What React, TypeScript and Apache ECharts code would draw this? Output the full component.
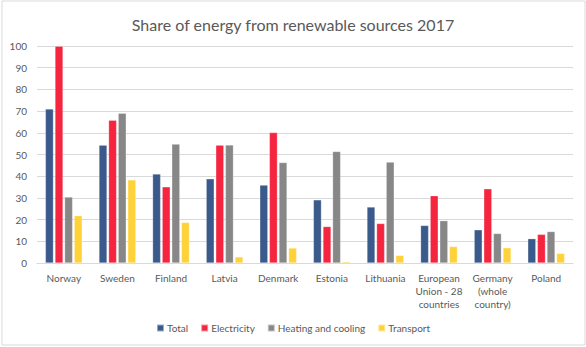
import React, { useEffect, useRef } from "react";
import * as echarts from "echarts";

const categories = [
  "Norway",
  "Sweden",
  "Finland",
  "Latvia",
  "Denmark",
  "Estonia",
  "Lithuania",
  "European\nUnion - 28\ncountries",
  "Germany\n(whole\ncountry)",
  "Poland",
];
const total = [71.0, 54.3, 41.0, 38.8, 35.9, 29.1, 25.8, 17.3, 15.3, 11.2];
const electricity = [99.9, 65.8, 35.1, 54.3, 60.1, 16.8, 18.2, 31.0, 34.2, 13.2];
const heating = [30.4, 69.0, 54.8, 54.4, 46.3, 51.4, 46.5, 19.5, 13.6, 14.5];
const transport = [21.8, 38.3, 18.7, 2.8, 6.9, 0.6, 3.5, 7.6, 7.0, 4.4];
const yTicks = { min: 0, max: 100, interval: 10 };

const FONT = "Lato, 'Open Sans', sans-serif";

export default function App() {
  const ref = useRef<HTMLDivElement>(null);
  useEffect(() => {
    if (!ref.current) return;
    const chart = echarts.init(ref.current, null, { renderer: "svg" });
    const mk = (name: string, data: number[], color: string) => ({
      name,
      type: "bar",
      data,
      barWidth: 8,
      barGap: "20%",
      itemStyle: { color, borderColor: "rgba(255,255,255,0.5)", borderWidth: 0.5 },
    });
    chart.setOption({
      animation: false,
      textStyle: { fontFamily: FONT },
      title: {
        text: "Share of energy from renewable sources 2017",
        left: "center",
        top: 11,
        textStyle: { fontFamily: FONT, fontSize: 16, fontWeight: "normal", color: "#595959" },
      },
      graphic: [
        {
          type: "rect",
          shape: { x: 2, y: 1, width: 583, height: 344 },
          style: { fill: "none", stroke: "#d9d9d9", lineWidth: 1 },
          silent: true,
        },
      ],
      legend: {
        bottom: 9,
        left: "center",
        itemWidth: 7,
        itemHeight: 7,
        itemGap: 12,
        icon: "rect",
        textStyle: { fontFamily: FONT, fontSize: 10, color: "#595959", padding: [0, 0, 0, -2] },
        data: ["Total", "Electricity", "Heating and cooling", "Transport"],
      },
      grid: { left: 37, right: 13, top: 46, bottom: 84, containLabel: false },
      xAxis: {
        type: "category",
        data: categories,
        axisTick: { show: false },
        axisLine: { lineStyle: { color: "#d9d9d9" } },
        axisLabel: {
          color: "#595959",
          fontSize: 10,
          lineHeight: 13,
          interval: 0,
          margin: 8,
          verticalAlign: "top",
        },
      },
      yAxis: {
        type: "value",
        min: yTicks.min,
        max: yTicks.max,
        interval: yTicks.interval,
        axisLine: { show: false },
        axisTick: { show: false },
        splitLine: { lineStyle: { color: "#d9d9d9" } },
        axisLabel: { color: "#595959", fontSize: 10, margin: 10, align: "right" },
      },
      series: [
        mk("Total", total, "#3A5A8B"),
        mk("Electricity", electricity, "#F5243F"),
        mk("Heating and cooling", heating, "#878787"),
        mk("Transport", transport, "#FFD23A"),
      ],
    });
    return () => chart.dispose();
  }, []);
  return (
    <div
      ref={ref}
      style={{ position: "absolute", left: 0, top: 0, width: 586, height: 347, background: "#fff" }}
    />
  );
}
